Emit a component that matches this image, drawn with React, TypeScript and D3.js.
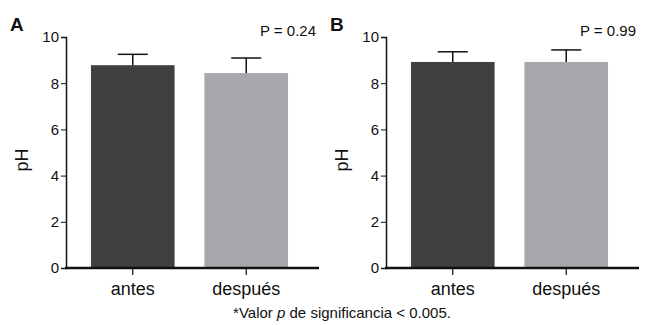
import { useRef, useEffect } from 'react'
import * as d3 from 'd3'

const categories = ['antes', 'después']
const panelLabels = ['A', 'B']
const pLabels = ['P = 0.24', 'P = 0.99']
const meansA = [8.78, 8.44]
const errorsA = [0.47, 0.65]
const meansB = [8.92, 8.92]
const errorsB = [0.44, 0.52]
const yTicks = [0, 2, 4, 6, 8, 10]
const barColors = ['#404040', '#a7a8ab']

const FONT = 'Liberation Sans, Arial, Helvetica, sans-serif'

export default function App() {
  const svgRef = useRef<SVGSVGElement>(null)

  useEffect(() => {
    if (!svgRef.current) return
    const svg = d3.select(svgRef.current)
    svg.selectAll('*').remove()

    const panels = [
      { left: 66, means: meansA, errors: errorsA },
      { left: 386, means: meansB, errors: errorsB },
    ]

    const y = d3.scaleLinear().domain([0, 10]).range([268, 37])

    panels.forEach((p, i) => {
      const g = svg.append('g')
      const x = d3.scaleBand<string>()
        .domain(categories)
        .range([p.left + 13.6, p.left + 233.4])
        .paddingInner(0.263)
        .paddingOuter(0.1)

      // bars
      g.selectAll('rect')
        .data(categories)
        .join('rect')
        .attr('x', d => x(d)!)
        .attr('width', x.bandwidth())
        .attr('y', (_, j) => y(p.means[j]))
        .attr('height', (_, j) => y(0) - y(p.means[j]))
        .attr('fill', (_, j) => barColors[j])

      // error bars (upper only)
      categories.forEach((c, j) => {
        const cx = x(c)! + x.bandwidth() / 2
        const top = y(p.means[j] + p.errors[j])
        g.append('line')
          .attr('x1', cx).attr('x2', cx)
          .attr('y1', y(p.means[j])).attr('y2', top)
          .attr('stroke', '#111').attr('stroke-width', 1.5)
        g.append('line')
          .attr('x1', cx - 15).attr('x2', cx + 15)
          .attr('y1', top).attr('y2', top)
          .attr('stroke', '#111').attr('stroke-width', 1.5)
      })

      // y axis
      const ya = g.append('g')
        .attr('transform', `translate(${p.left},0)`)
        .call(d3.axisLeft(y).tickValues(yTicks).tickSize(5).tickPadding(2))
      ya.select('.domain').attr('stroke', '#111').attr('stroke-width', 1.5)
      ya.selectAll('.tick line').attr('stroke', '#111')
      ya.selectAll('text')
        .style('font-family', FONT).style('font-size', '15px').attr('fill', '#111')

      // x axis
      g.append('line')
        .attr('x1', p.left - 1).attr('x2', p.left + 253)
        .attr('y1', y(0)).attr('y2', y(0))
        .attr('stroke', '#111').attr('stroke-width', 2.5)

      categories.forEach(c => {
        const cx = x(c)! + x.bandwidth() / 2
        g.append('line')
          .attr('x1', cx).attr('x2', cx)
          .attr('y1', y(0)).attr('y2', y(0) + 7)
          .attr('stroke', '#111').attr('stroke-width', 1.2)
        g.append('text')
          .attr('x', cx).attr('y', 295)
          .attr('text-anchor', 'middle')
          .style('font-family', FONT).style('font-size', '18px').attr('fill', '#111')
          .text(c)
      })

      // y label
      g.append('text')
        .attr('transform', `translate(${p.left - 38},160) rotate(-90)`)
        .attr('text-anchor', 'middle')
        .style('font-family', FONT).style('font-size', '18px').attr('fill', '#111')
        .text('pH')

      // panel letter
      g.append('text')
        .attr('x', p.left - 56).attr('y', 31)
        .style('font-family', FONT).style('font-size', '19px').style('font-weight', 'bold')
        .attr('fill', '#111')
        .text(panelLabels[i])

      // p value
      g.append('text')
        .attr('x', p.left + 250).attr('y', 36)
        .attr('text-anchor', 'end')
        .style('font-family', FONT).style('font-size', '15px').attr('fill', '#111')
        .text(pLabels[i])
    })

    const foot = svg.append('text')
      .attr('x', 342).attr('y', 318)
      .attr('text-anchor', 'middle')
      .style('font-family', FONT).style('font-size', '15px').attr('fill', '#111')
    foot.append('tspan').text('*Valor ')
    foot.append('tspan').style('font-style', 'italic').text('p')
    foot.append('tspan').text(' de significancia < 0.005.')
  }, [])

  return (
    <svg
      ref={svgRef}
      width={646}
      height={325}
      style={{ position: 'absolute', left: 0, top: 0, background: '#fff' }}
    />
  )
}
